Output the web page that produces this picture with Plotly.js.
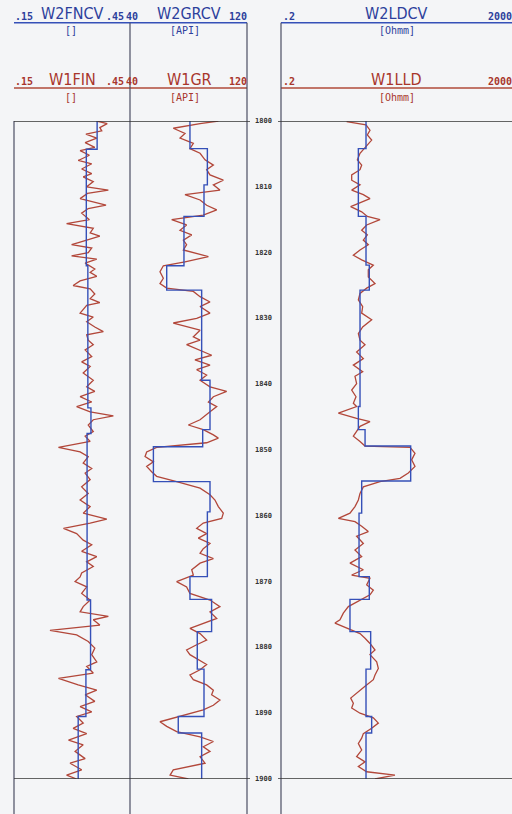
<!DOCTYPE html>
<html>
<head>
<meta charset="utf-8">
<script src="https://cdn.plot.ly/plotly-3.0.1.min.js"></script>
<style>
html,body{margin:0;padding:0;background:#f4f5f7;}
#chart{width:512px;height:814px;}
</style>
</head>
<body>
<div id="chart"></div>
<script>
// ---------- Track scales and header labels ----------
const FN_RANGE = [0.15, 0.45];
const FN_LABELS = ['.15', '.45'];
const GR_RANGE = [40, 120];
const GR_LABELS = ['40', '120'];
const RES_RANGE = [0.2, 2000];
const RES_LABELS = ['.2', '2000'];
const CURVE_NAMES_BLUE = ['W2FNCV', 'W2GRCV', 'W2LDCV'];
const CURVE_NAMES_RED = ['W1FIN', 'W1GR', 'W1LLD'];
const CURVE_UNITS = ['[]', '[API]', '[Ohmm]'];
const DEPTH_RANGE = [1800, 1900];
const DEPTH_TICKS = [1800, 1810, 1820, 1830, 1840, 1850, 1860, 1870, 1880, 1890, 1900];

// ---------- Blocky (blue) curves: interval tops and values ----------
const FNCV_TOPS = [1800, 1804.3, 1822.0, 1843.6, 1847.5, 1872.8, 1883.4, 1890.5, 1900];
const FNCV_VALUES = [0.365, 0.337, 0.341, 0.349, 0.339, 0.348, 0.336, 0.316, 0.316];

const GRCV_TOPS = [1800, 1804.2, 1809.7, 1814.5, 1822.0, 1825.7, 1839.4, 1846.9, 1849.5, 1854.8, 1859.4, 1869.25, 1872.7, 1877.6, 1883.3, 1890.5, 1893.0, 1900];
const GRCV_VALUES = [81.0, 92.9, 90.6, 76.9, 65.1, 89.0, 94.7, 89.7, 56.0, 94.7, 92.9, 81.0, 95.8, 86.0, 90.6, 73.0, 89.0, 89.0];

const LDCV_TOPS = [1800, 1804.2, 1814.5, 1821.9, 1825.7, 1843.4, 1846.9, 1849.4, 1854.7, 1859.6, 1869.25, 1872.7, 1877.6, 1883.3, 1890.5, 1893.0, 1900];
const LDCV_VALUES = [5.93, 4.37, 5.93, 6.76, 4.67, 4.37, 5.71, 35.2, 4.99, 4.49, 6.76, 3.13, 7.14, 5.93, 7.43, 5.93, 5.93];

// ---------- Raw (red) curves ----------
const FIN_DEPTH = [1800.0,1800.4,1801.0,1801.5,1802.0,1802.6,1803.3,1804.0,1804.5,1805.2,1806.0,1806.5,1807.3,1808.0,1808.5,1809.2,1810.0,1810.5,1811.0,1811.8,1812.8,1813.3,1814.0,1815.0,1815.6,1816.3,1817.0,1817.5,1818.4,1818.8,1819.3,1820.0,1820.5,1821.0,1821.6,1822.5,1823.0,1823.6,1824.3,1825.0,1825.5,1826.3,1827.0,1827.6,1828.0,1829.2,1829.8,1830.5,1831.3,1832.0,1832.5,1833.3,1834.0,1834.8,1835.8,1836.6,1837.3,1838.3,1839.4,1840.4,1841.1,1841.9,1842.7,1843.4,1844.2,1844.8,1845.4,1846.2,1847.2,1847.9,1848.7,1849.6,1850.3,1851.0,1852.0,1852.8,1853.5,1854.5,1855.6,1856.6,1857.6,1858.6,1859.6,1860.5,1861.1,1861.9,1862.7,1863.7,1864.4,1865.4,1866.2,1867.0,1867.7,1868.7,1869.3,1870.0,1870.8,1871.8,1872.8,1873.8,1874.6,1875.3,1875.8,1876.6,1877.4,1878.1,1879.1,1880.1,1881.1,1882.2,1882.9,1883.9,1884.7,1885.7,1886.5,1887.2,1888.2,1889.0,1889.8,1890.5,1891.5,1892.3,1893.1,1894.1,1894.8,1895.8,1896.9,1897.6,1898.6,1899.4,1900.0];
const FIN_VALUES = [0.364,0.391,0.372,0.377,0.336,0.364,0.334,0.359,0.321,0.345,0.316,0.351,0.325,0.351,0.329,0.355,0.338,0.394,0.340,0.321,0.388,0.342,0.325,0.345,0.286,0.355,0.347,0.372,0.321,0.299,0.351,0.342,0.299,0.364,0.334,0.359,0.347,0.364,0.321,0.303,0.347,0.359,0.347,0.372,0.338,0.321,0.355,0.338,0.359,0.381,0.338,0.342,0.355,0.334,0.351,0.325,0.347,0.329,0.355,0.338,0.359,0.321,0.351,0.312,0.347,0.407,0.355,0.342,0.355,0.334,0.347,0.265,0.321,0.342,0.329,0.351,0.334,0.347,0.325,0.342,0.321,0.347,0.329,0.390,0.347,0.278,0.312,0.329,0.351,0.325,0.364,0.338,0.355,0.325,0.321,0.308,0.338,0.325,0.347,0.329,0.321,0.394,0.355,0.372,0.243,0.312,0.342,0.359,0.351,0.364,0.338,0.355,0.265,0.316,0.364,0.334,0.359,0.321,0.351,0.312,0.329,0.303,0.338,0.291,0.329,0.308,0.334,0.295,0.325,0.286,0.312];

const GR_DEPTH = [1800.0,1800.4,1801.1,1801.9,1802.6,1803.4,1804.2,1804.9,1805.9,1806.7,1807.4,1808.2,1809.0,1809.7,1810.5,1811.2,1812.0,1812.8,1813.5,1814.3,1815.0,1815.8,1816.6,1817.3,1818.1,1818.8,1819.6,1820.6,1821.4,1822.0,1822.9,1823.9,1824.7,1825.4,1825.9,1826.7,1827.5,1828.2,1829.2,1830.0,1830.7,1831.8,1832.8,1833.3,1834.0,1834.8,1835.6,1836.3,1837.1,1837.8,1838.6,1839.4,1840.4,1841.1,1841.9,1842.7,1843.4,1844.2,1845.4,1846.2,1846.9,1847.7,1848.2,1848.9,1849.6,1850.3,1851.0,1851.8,1852.5,1853.3,1854.0,1854.8,1855.8,1856.8,1857.6,1858.6,1859.6,1860.4,1861.1,1861.9,1862.7,1863.4,1864.2,1865.0,1865.7,1866.5,1867.2,1868.2,1869.0,1870.0,1870.8,1871.8,1872.8,1873.8,1874.6,1875.6,1876.6,1877.1,1877.9,1878.9,1879.6,1880.4,1881.1,1881.9,1882.6,1883.4,1884.2,1884.9,1885.7,1886.5,1887.2,1888.0,1888.8,1889.5,1890.5,1891.3,1892.0,1892.8,1893.6,1894.3,1895.1,1895.8,1896.6,1897.6,1898.6,1899.4,1900.0];
const GR_VALUES = [100.4,87.9,69.6,77.6,74.2,83.3,81.0,87.9,91.3,97.0,92.4,94.7,103.8,97.0,101.5,77.6,87.9,92.4,99.3,90.1,68.5,78.7,74.2,82.2,76.5,78.7,76.5,93.6,77.6,62.8,60.5,62.8,60.5,65.1,83.3,87.9,94.7,87.9,94.7,85.6,69.6,87.9,83.3,87.9,78.7,87.9,95.8,84.4,94.7,85.6,92.4,87.9,94.7,106.1,97.0,93.6,99.3,94.7,87.9,79.9,90.1,97.0,100.4,92.4,58.2,51.4,50.3,56.0,51.4,54.8,58.2,71.9,87.9,94.7,98.1,100.4,103.8,102.7,90.1,85.6,92.4,86.7,94.7,90.1,87.9,97.0,87.9,82.2,83.3,71.9,78.7,81.0,94.7,101.5,94.7,99.3,87.9,81.0,87.9,92.4,85.6,78.7,81.0,86.7,92.4,87.9,81.0,83.3,92.4,97.0,95.8,101.5,97.0,90.1,74.2,60.5,65.1,71.9,87.9,97.0,90.1,94.7,87.9,91.3,69.6,67.4,79.9];

const LLD_DEPTH = [1800.1,1800.6,1801.4,1802.1,1802.9,1803.6,1804.2,1804.9,1805.9,1806.7,1807.4,1808.2,1809.0,1809.7,1810.5,1811.2,1811.8,1812.5,1813.0,1813.8,1814.5,1815.0,1815.8,1816.6,1817.3,1818.1,1818.8,1819.6,1820.4,1821.1,1821.9,1822.6,1823.7,1824.7,1825.4,1826.2,1827.2,1828.2,1829.2,1830.2,1831.3,1832.3,1833.3,1834.0,1835.1,1836.1,1837.1,1838.1,1838.8,1839.9,1840.9,1841.9,1842.9,1843.4,1844.4,1845.2,1845.7,1846.4,1847.2,1847.9,1848.7,1849.4,1849.6,1850.5,1851.5,1852.5,1853.5,1854.3,1854.8,1855.6,1856.6,1857.6,1858.6,1859.6,1860.4,1860.9,1861.6,1862.4,1863.1,1864.2,1865.2,1866.2,1867.2,1868.2,1869.0,1869.5,1870.5,1871.3,1872.0,1872.8,1873.8,1874.8,1875.8,1876.3,1877.1,1877.9,1878.6,1879.4,1880.4,1881.1,1882.2,1883.2,1884.2,1884.9,1885.9,1886.9,1887.7,1888.5,1889.2,1890.0,1890.7,1891.5,1892.3,1893.1,1893.8,1894.6,1895.6,1896.6,1897.4,1898.1,1898.9,1899.4,1899.9,1900.0];
const LLD_VALUES = [2.74,5.93,6.95,6.25,7.43,6.25,5.33,4.67,4.20,4.99,4.67,3.35,3.35,4.67,3.35,5.33,6.95,4.37,3.22,4.99,6.25,10.36,6.09,4.99,6.25,5.33,6.50,4.67,3.58,4.99,7.94,6.50,6.50,8.49,6.09,4.67,4.37,5.19,4.99,7.43,5.19,4.37,4.67,5.70,4.08,5.33,3.58,5.19,3.82,4.08,3.35,3.98,3.58,4.08,1.97,4.08,6.95,4.67,3.98,3.58,4.67,5.70,34.3,41.8,36.6,41.8,32.0,23.0,10.36,5.33,4.67,4.37,3.82,3.13,1.97,3.82,4.99,6.50,4.08,5.33,3.82,4.99,3.13,5.33,3.35,6.95,6.09,7.94,6.95,4.67,2.93,2.40,2.10,1.72,2.74,4.67,5.70,6.95,8.49,6.95,9.08,9.69,8.49,7.94,5.70,4.08,3.22,3.58,3.35,4.67,7.94,9.69,7.43,5.33,4.99,4.37,4.99,4.08,5.70,4.37,6.09,18.8,9.08,8.49];

// ---------- Styling ----------
const W = 512, H = 814;
const BLUE = '#3550b8', RED = '#b2473a';
const TXT_BLUE = '#2d3f9c', TXT_RED = '#a8362c';
const FRAME = '#4a4d63';
const TITLE_FONT = 'Liberation Sans Narrow, DejaVu Sans Condensed, Arial Narrow, sans-serif';
const MONO = 'DejaVu Sans Mono, Liberation Mono, monospace';

const px = v => v / W;
const py = v => 1 - v / H;

const TRACK_X = {fnL: 14, fnR: 130, grR: 247, resL: 281, resR: 512};

const redLine = {color: RED, width: 1.3};
const blueLine = {color: BLUE, width: 1.4, shape: 'vh'};

const traces = [
  {x: FIN_VALUES, y: FIN_DEPTH, xaxis: 'x', yaxis: 'y', mode: 'lines', line: redLine, name: CURVE_NAMES_RED[0]},
  {x: GR_VALUES, y: GR_DEPTH, xaxis: 'x2', yaxis: 'y', mode: 'lines', line: redLine, name: CURVE_NAMES_RED[1]},
  {x: LLD_VALUES, y: LLD_DEPTH, xaxis: 'x3', yaxis: 'y', mode: 'lines', line: redLine, name: CURVE_NAMES_RED[2]},
  {x: FNCV_VALUES, y: FNCV_TOPS, xaxis: 'x', yaxis: 'y', mode: 'lines', line: blueLine, name: CURVE_NAMES_BLUE[0]},
  {x: GRCV_VALUES, y: GRCV_TOPS, xaxis: 'x2', yaxis: 'y', mode: 'lines', line: blueLine, name: CURVE_NAMES_BLUE[1]},
  {x: LDCV_VALUES, y: LDCV_TOPS, xaxis: 'x3', yaxis: 'y', mode: 'lines', line: blueLine, name: CURVE_NAMES_BLUE[2]}
];

const hidden = {showgrid: false, zeroline: false, showticklabels: false, showline: false, ticks: '', fixedrange: true};

const shapes = [];
function seg(x0, y0, x1, y1, color, width, yref) {
  shapes.push({type: 'line', xref: 'paper', yref: yref || 'paper', x0: px(x0), x1: px(x1),
    y0: yref ? y0 : py(y0), y1: yref ? y1 : py(y1), line: {color: color, width: width}});
}
// header lines
[22.7, 88].forEach((yy, i) => {
  const c = i === 0 ? BLUE : '#b04a3a';
  seg(TRACK_X.fnL, yy, TRACK_X.grR, yy, c, 1.4);
  seg(TRACK_X.resL, yy, TRACK_X.resR, yy, c, 1.4);
});
// verticals
seg(TRACK_X.fnL, 121, TRACK_X.fnL, 814, FRAME, 1.2);
seg(TRACK_X.fnR, 22.7, TRACK_X.fnR, 814, FRAME, 1.2);
seg(TRACK_X.grR, 22.7, TRACK_X.grR, 814, FRAME, 1.2);
seg(TRACK_X.resL, 22.7, TRACK_X.resL, 814, FRAME, 1.2);
// top / bottom depth lines
DEPTH_RANGE.forEach(d => {
  seg(TRACK_X.fnL, d, 250, d, '#333', 1.3, 'y');
  seg(278, d, TRACK_X.resR, d, '#333', 1.3, 'y');
});

const ann = [];
function txt(t, x, y, size, color, family, anchor, bold) {
  ann.push({text: bold ? '<b>' + t + '</b>' : t, x: px(x), y: py(y), xref: 'paper', yref: 'paper',
    showarrow: false, xanchor: anchor || 'center', yanchor: 'middle', borderpad: 0,
    font: {size: size, color: color, family: family}});
}
// header rows: [title y, scale y, unit y]
const rows = [
  {names: CURVE_NAMES_BLUE, color: TXT_BLUE, ty: 13.5, sy: 16.5, uy: 31},
  {names: CURVE_NAMES_RED, color: TXT_RED, ty: 79, sy: 81.5, uy: 97}
];
rows.forEach(r => {
  txt(r.names[0], 72, r.ty, 16, r.color, TITLE_FONT);
  txt(r.names[1], 189, r.ty, 16, r.color, TITLE_FONT);
  txt(r.names[2], 396, r.ty, 16, r.color, TITLE_FONT);
  txt(FN_LABELS[0], 14, r.sy, 10, r.color, MONO, 'left', true);
  txt(FN_LABELS[1], 125, r.sy, 10, r.color, MONO, 'right', true);
  txt(GR_LABELS[0], 124.5, r.sy, 10, r.color, MONO, 'left', true);
  txt(GR_LABELS[1], 248, r.sy, 10, r.color, MONO, 'right', true);
  txt(RES_LABELS[0], 282, r.sy, 10, r.color, MONO, 'left', true);
  txt(RES_LABELS[1], 513, r.sy, 10, r.color, MONO, 'right', true);
  txt(CURVE_UNITS[0], 71, r.uy, 10, r.color, MONO);
  txt(CURVE_UNITS[1], 185, r.uy, 10, r.color, MONO);
  txt(CURVE_UNITS[2], 397, r.uy, 10, r.color, MONO);
});
// depth labels
DEPTH_TICKS.forEach(d => {
  ann.push({text: '<b>' + d + '</b>', x: px(263.5), xref: 'paper', y: d, yref: 'y', showarrow: false,
    xanchor: 'center', yanchor: 'middle', font: {size: 7, color: '#333', family: MONO}});
});

const layout = {
  width: W, height: H,
  margin: {l: 0, r: 0, t: 0, b: 0, pad: 0},
  paper_bgcolor: '#f4f5f7', plot_bgcolor: 'rgba(0,0,0,0)',
  showlegend: false,
  xaxis: Object.assign({domain: [px(TRACK_X.fnL), px(TRACK_X.fnR)], range: FN_RANGE, anchor: 'y'}, hidden),
  xaxis2: Object.assign({domain: [px(TRACK_X.fnR), px(TRACK_X.grR)], range: GR_RANGE, anchor: 'y'}, hidden),
  xaxis3: Object.assign({domain: [px(TRACK_X.resL), px(TRACK_X.resR)], type: 'log',
    range: [Math.log10(RES_RANGE[0]), Math.log10(RES_RANGE[1])], anchor: 'y'}, hidden),
  yaxis: Object.assign({domain: [1 - 779 / H, 1 - 121 / H], range: [DEPTH_RANGE[1], DEPTH_RANGE[0]], anchor: 'x'}, hidden),
  shapes: shapes,
  annotations: ann
};

Plotly.newPlot('chart', traces, layout, {staticPlot: true, displayModeBar: false});
</script>
</body>
</html>
